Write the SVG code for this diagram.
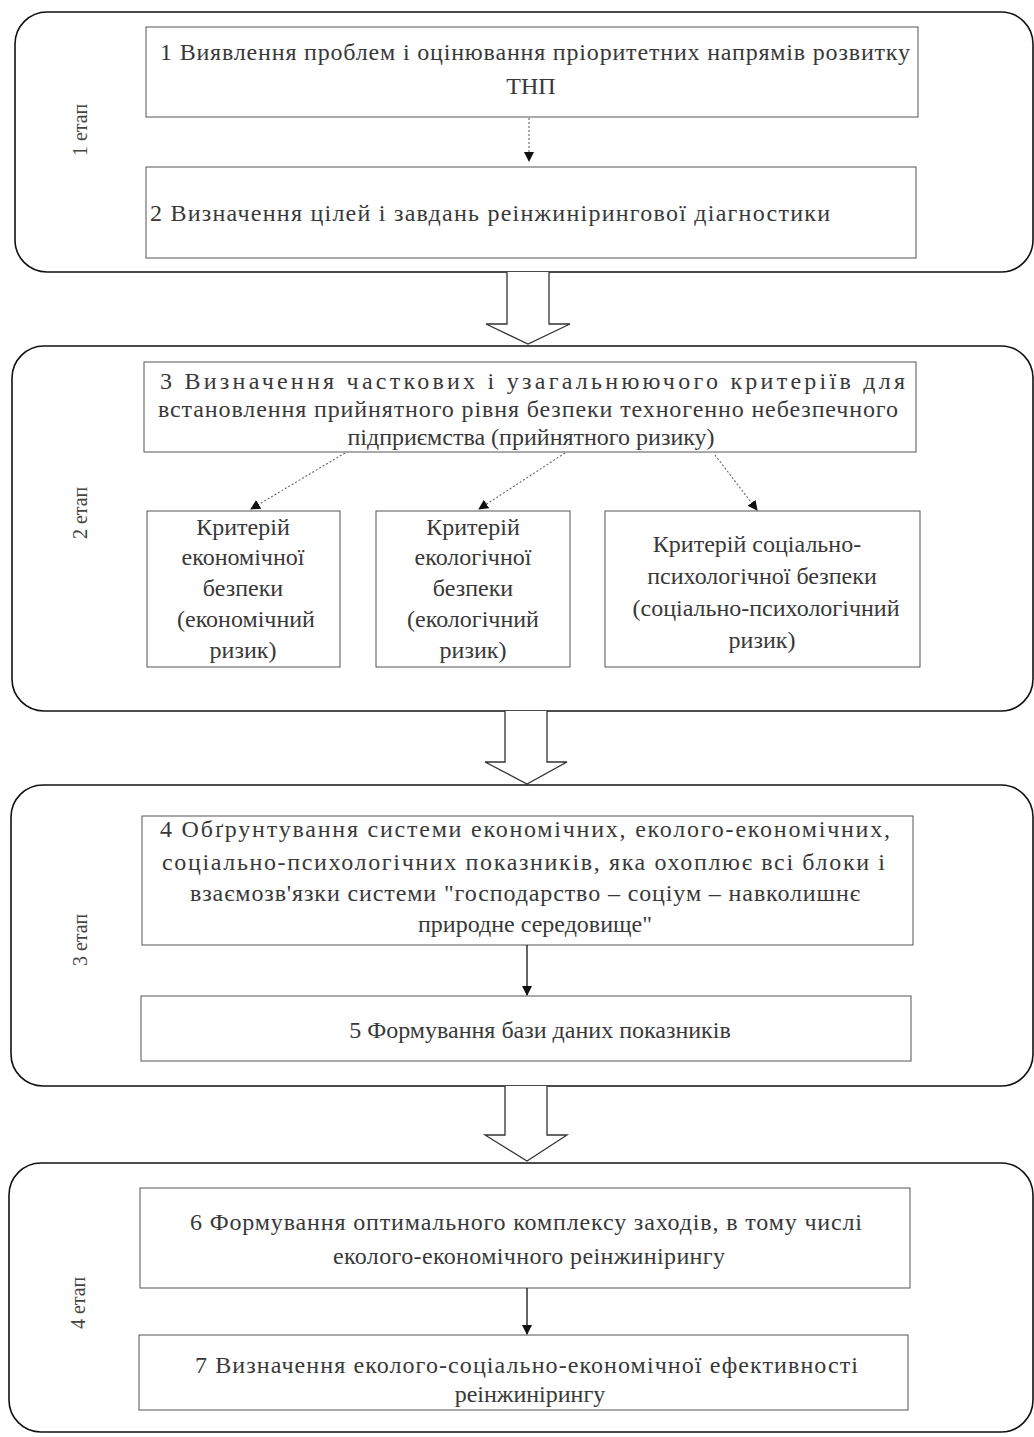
<svg xmlns="http://www.w3.org/2000/svg" width="1034" height="1437" viewBox="0 0 1034 1437">
  <style>
    .stage { fill: #ffffff; stroke: #111111; stroke-width: 1.6; }
    .box { fill: #ffffff; stroke: #555555; stroke-width: 1; }
    .t { font-family: "Liberation Serif", "Times New Roman", serif; font-size: 24px; fill: #383838; }
    .c { text-anchor: middle; }
    .lab { font-family: "Liberation Serif", "Times New Roman", serif; font-size: 20px; fill: #444444; text-anchor: middle; }
    .flow { stroke: #111111; stroke-width: 1.3; fill: none; }
    .dot { stroke: #666666; stroke-width: 1.1; fill: none; stroke-dasharray: 2 2; }
    .big { fill: #ffffff; stroke: #333333; stroke-width: 1.3; }
  </style>
  <defs>
    <marker id="ah" viewBox="0 0 10 10" refX="9" refY="5" markerWidth="10" markerHeight="10" markerUnits="userSpaceOnUse" orient="auto">
      <path d="M0,0 L10,5 L0,10 Z" fill="#111111"/>
    </marker>
  </defs>

  <!-- stage frames -->
  <g id="stage1">
    <rect class="stage" x="15" y="12" width="1018" height="260" rx="32"/>
    <text class="lab" transform="translate(87,130) rotate(-90)">1 етап</text>
  </g>
  <g id="stage2">
    <rect class="stage" x="12" y="346" width="1021" height="365" rx="32"/>
    <text class="lab" transform="translate(87,513) rotate(-90)">2 етап</text>
  </g>
  <g id="stage3">
    <rect class="stage" x="11" y="785" width="1022" height="301" rx="32"/>
    <text class="lab" transform="translate(87,940) rotate(-90)">3 етап</text>
  </g>
  <g id="stage4">
    <rect class="stage" x="9" y="1163" width="1024" height="269" rx="32"/>
    <text class="lab" transform="translate(85,1303) rotate(-90)">4 етап</text>
  </g>

  <!-- step boxes -->
  <g id="n1">
    <rect class="box" x="146" y="27" width="772" height="90"/>
    <text class="t" x="160" y="60" textLength="750" lengthAdjust="spacing">1 Виявлення проблем і оцінювання пріоритетних напрямів розвитку</text>
    <text class="t c" x="531" y="94">ТНП</text>
  </g>
  <g id="n2">
    <rect class="box" x="146" y="167" width="770" height="91"/>
    <text class="t" x="150" y="221" textLength="680" lengthAdjust="spacing">2 Визначення цілей і завдань реінжинірингової діагностики</text>
  </g>
  <g id="n3">
    <rect class="box" x="144" y="362" width="772" height="90"/>
    <text class="t" x="160" y="389" textLength="745" lengthAdjust="spacing">3 Визначення часткових і узагальнюючого критеріїв для</text>
    <text class="t" x="158" y="417" textLength="740" lengthAdjust="spacing">встановлення прийнятного рівня безпеки техногенно небезпечного</text>
    <text class="t c" x="531" y="445">підприємства (прийнятного ризику)</text>
  </g>
  <g id="n3a">
    <rect class="box" x="147" y="511" width="193" height="156"/>
    <text class="t c" x="243" y="535">Критерій</text>
    <text class="t c" x="243" y="565">економічної</text>
    <text class="t c" x="243" y="596">безпеки</text>
    <text class="t c" x="246" y="627">(економічний</text>
    <text class="t c" x="243" y="658">ризик)</text>
  </g>
  <g id="n3b">
    <rect class="box" x="376" y="511" width="194" height="156"/>
    <text class="t c" x="473" y="535">Критерій</text>
    <text class="t c" x="473" y="565">екологічної</text>
    <text class="t c" x="473" y="596">безпеки</text>
    <text class="t c" x="473" y="627">(екологічний</text>
    <text class="t c" x="473" y="658">ризик)</text>
  </g>
  <g id="n3c">
    <rect class="box" x="605" y="511" width="315" height="156"/>
    <text class="t c" x="757" y="552">Критерій соціально-</text>
    <text class="t c" x="762" y="584">психологічної безпеки</text>
    <text class="t c" x="766" y="616">(соціально-психологічний</text>
    <text class="t c" x="762" y="648">ризик)</text>
  </g>
  <g id="n4">
    <rect class="box" x="142" y="816" width="771" height="129"/>
    <text class="t" x="160" y="837" textLength="730" lengthAdjust="spacing">4 Обґрунтування системи економічних, еколого-економічних,</text>
    <text class="t" x="162" y="870" textLength="723" lengthAdjust="spacing">соціально-психологічних показників, яка охоплює всі блоки і</text>
    <text class="t" x="190" y="901" textLength="670" lengthAdjust="spacing">взаємозв'язки системи "господарство – соціум – навколишнє</text>
    <text class="t c" x="535" y="932">природне середовище"</text>
  </g>
  <g id="n5">
    <rect class="box" x="141" y="996" width="770" height="65"/>
    <text class="t c" x="540" y="1038">5 Формування бази даних показників</text>
  </g>
  <g id="n6">
    <rect class="box" x="140" y="1188" width="770" height="100"/>
    <text class="t" x="190" y="1230" textLength="672" lengthAdjust="spacing">6 Формування оптимального комплексу заходів, в тому числі</text>
    <text class="t" x="333" y="1264" textLength="392" lengthAdjust="spacing">еколого-економічного реінжинірингу</text>
  </g>
  <g id="n7">
    <rect class="box" x="139" y="1335" width="769" height="75"/>
    <text class="t" x="195" y="1373" textLength="663" lengthAdjust="spacing">7 Визначення еколого-соціально-економічної ефективності</text>
    <text class="t c" x="530" y="1402">реінжинірингу</text>
  </g>

  <!-- connectors -->
  <g id="connectors">
    <path class="dot" d="M529,118 V161" marker-end="url(#ah)"/>
    <path class="big" d="M507,272 V324 H486 L528,344 L570,324 H549 V272"/>
    <path class="dot" d="M345,453 L251,509" marker-end="url(#ah)"/>
    <path class="dot" d="M565,453 L479,509" marker-end="url(#ah)"/>
    <path class="dot" d="M715,455 L757,510" marker-end="url(#ah)"/>
    <path class="big" d="M505,711 V762 H485 L527,784 L567,762 H547 V711"/>
    <path class="flow" d="M527,945 V995" marker-end="url(#ah)"/>
    <path class="big" d="M505,1086 V1135 H485 L527,1161 L567,1135 H547 V1086"/>
    <path class="flow" d="M527,1288 V1334" marker-end="url(#ah)"/>
  </g>
</svg>
